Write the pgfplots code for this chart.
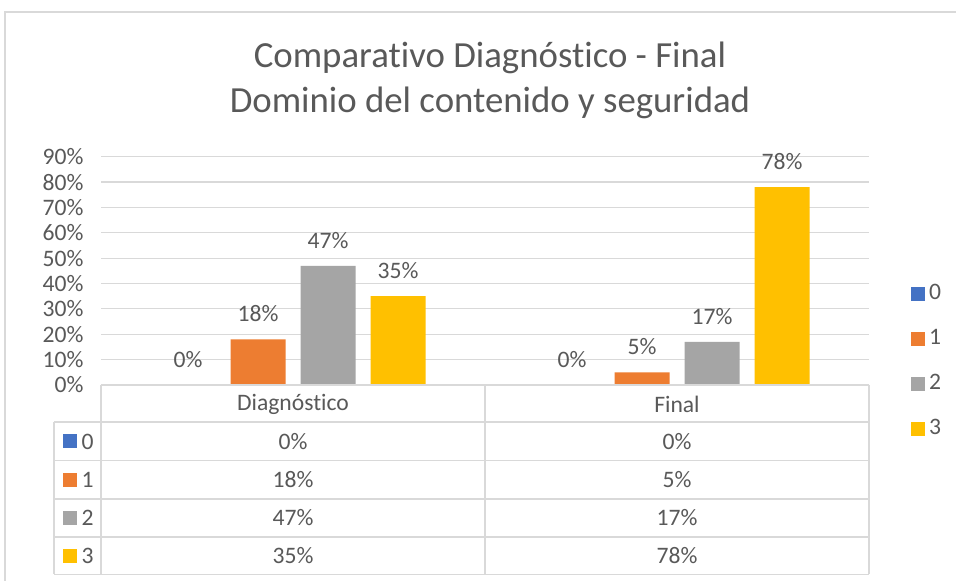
\documentclass[border=0pt]{standalone}
\usepackage{pgfplots}
\pgfplotsset{compat=1.18}
\usepackage{fontspec}
\setmainfont{Carlito}[Ligatures=NoCommon]
\definecolor{c0}{HTML}{4472C4}
\definecolor{c1}{HTML}{ED7D31}
\definecolor{c2}{HTML}{A5A5A5}
\definecolor{c3}{HTML}{FFC000}
\definecolor{txt}{HTML}{595959}
\definecolor{rule}{HTML}{D9D9D9}
\newcommand\lbl{\fontsize{23.6}{28}\selectfont}
\newcommand\ttl{\fontsize{36.8}{44}\selectfont}
\pgfplotsset{sqlegend/.style={legend image code/.code={\fill[##1] (0pt,-8.5pt) rectangle (14pt,5.5pt);}}}

\begin{document}
\begin{tikzpicture}[x=1pt,y=1pt]
\useasboundingbox (0,0) rectangle (956,581);
\fill[white] (0,0) rectangle (956,581);
\draw[rule, line width=1.2pt] (5,-2) -- (5,569) -- (958,569);
\node[font=\ttl, text=txt] at (490,523) {Comparativo Diagnóstico - Final};
\node[font=\ttl, text=txt] at (490,478) {Dominio del contenido y seguridad};

\begin{axis}[
  at={(101pt,196pt)}, anchor=south west,
  width=768pt, height=228.3pt, scale only axis,
  ybar=15pt, bar width=55pt,
  xmin=-0.5, xmax=1.5, ymin=0, ymax=90,
  xtick=\empty, ytick={0,10,...,90},
  /pgf/number format/assume math mode=true,
  yticklabel={\pgfmathprintnumber{\tick}\%},
  axis line style={draw=none},
  major tick length=0pt,
  ymajorgrids, grid style={rule, line width=1.2pt},
  tick label style={font=\lbl, text=txt},
  yticklabel style={xshift=-14pt},
  nodes near coords={\pgfmathprintnumber{\pgfplotspointmeta}\%},
  every node near coord/.append style={font=\lbl, text=txt, anchor=center, yshift=25.5pt},
  clip=false,
  sqlegend,
  legend style={at={(1.0547,0.11)}, anchor=west, draw=none, fill=none,
    inner sep=0pt, outer sep=0pt, font=\lbl, text=txt, row sep=28pt,
    nodes={inner sep=0pt},
    /tikz/every odd column/.append style={column sep=4pt}},
  legend cell align=left,
]
\addplot[fill=c0, draw=none] coordinates {(0,0) (1,0)};
\addplot[fill=c1, draw=none] coordinates {(0,18) (1,5)};
\addplot[fill=c2, draw=none] coordinates {(0,47) (1,17)};
\addplot[fill=c3, draw=none] coordinates {(0,35) (1,78)};
\legend{0,1,2,3}
\end{axis}

% data table
\begin{scope}[rule, line width=1.2pt]
\draw (101,196) -- (869,196);
\foreach \yy in {159,120.5,82,44,6.5} \draw (54,\yy) -- (869,\yy);
\draw (101,196) -- (101,6.5);
\draw (485,196) -- (485,6.5);
\draw (869,196) -- (869,6.5);
\draw (54,159) -- (54,6.5);
\end{scope}
\begin{scope}[every node/.style={font=\lbl, text=txt}]
\node at (293,177) {Diagnóstico};
\node at (677,177) {Final};
\node at (293,139.5) {0\%};  \node at (677,139.5) {0\%};
\node at (293,101) {18\%};   \node at (677,101) {5\%};
\node at (293,63) {47\%};    \node at (677,63) {17\%};
\node at (293,25) {35\%};    \node at (677,25) {78\%};
\end{scope}
\foreach \c/\t/\yy in {c0/0/139.5, c1/1/101, c2/2/63, c3/3/25} {
  \fill[\c] (63,\yy-7) rectangle (77,\yy+7);
  \node[font=\lbl, text=txt, anchor=west, inner sep=0pt] at (81.5,\yy) {\t};
}
\end{tikzpicture}
\end{document}
